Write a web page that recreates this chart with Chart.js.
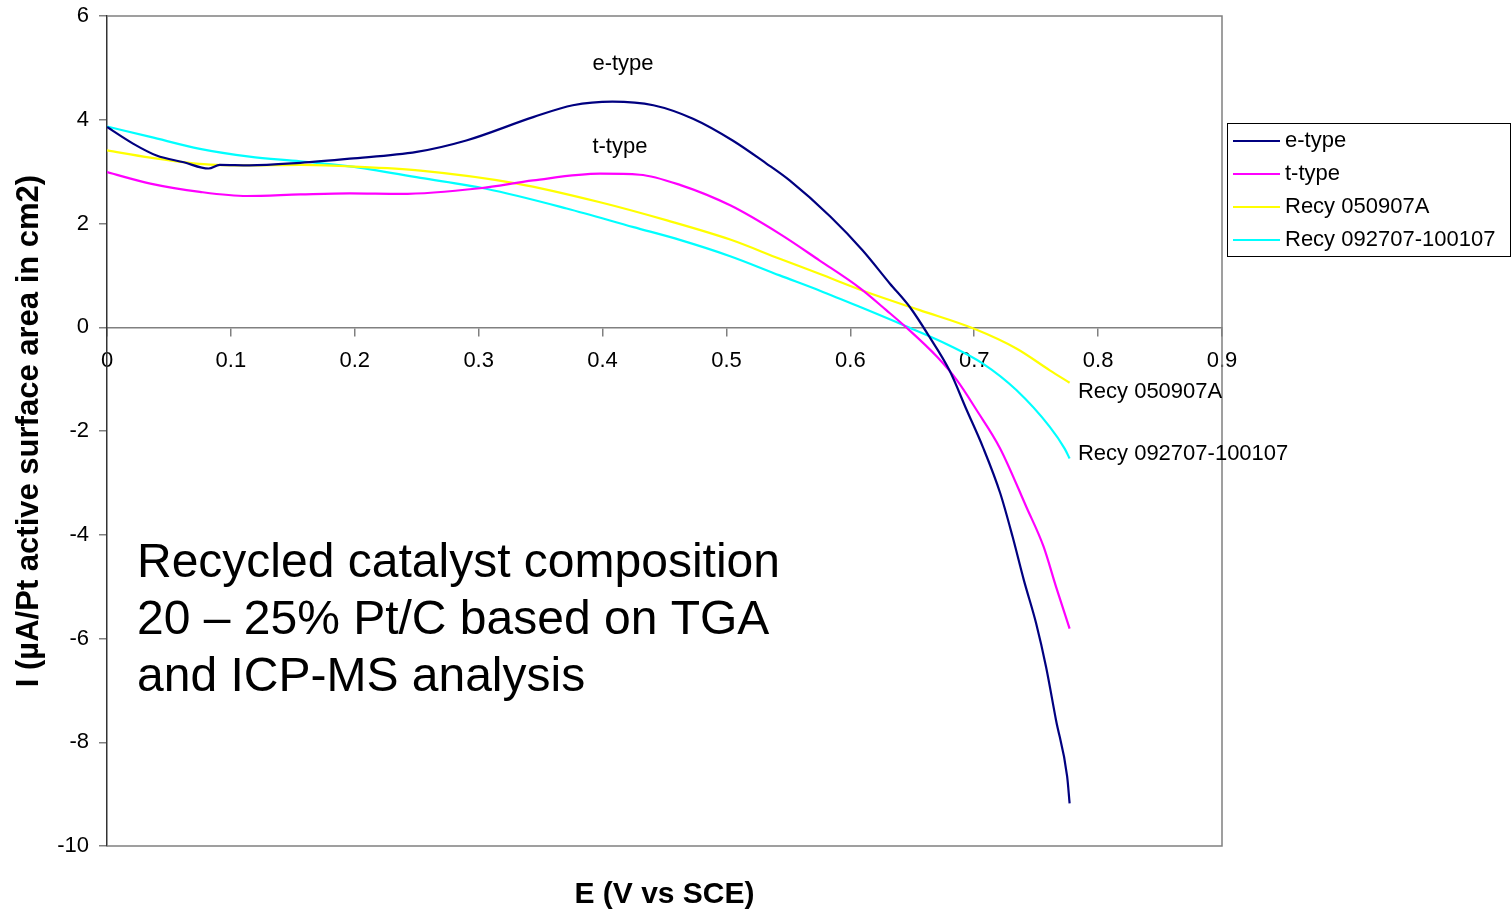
<!DOCTYPE html>
<html>
<head>
<meta charset="utf-8">
<title>Polarisation curves</title>
<script src="https://cdn.jsdelivr.net/npm/chart.js@4.4.1/dist/chart.umd.min.js"></script>
<style>
  html, body { margin: 0; padding: 0; background: #fff; }
  #wrap { width: 1511px; height: 910px; }
</style>
</head>
<body>
<div id="wrap"><canvas id="chart" width="1511" height="910"></canvas></div>
<script>
// axis ticks
const xTicks = [0, 0.1, 0.2, 0.3, 0.4, 0.5, 0.6, 0.7, 0.8, 0.9]
const yTicks = [-10, -8, -6, -4, -2, 0, 2, 4, 6]

const seriesNames  = ['e-type', 't-type', 'Recy 050907A', 'Recy 092707-100107']
const seriesColors = ['#000080', '#ff00ff', '#ffff00', '#00ffff']

// e-type : E (V vs SCE) / I
const eType_E = [0.000, 0.021, 0.040, 0.062, 0.082, 0.091, 0.115, 0.156, 0.196, 0.250, 0.290, 0.344, 0.376, 0.408,
                 0.441, 0.473, 0.505, 0.532, 0.551, 0.584, 0.610, 0.632, 0.648, 0.664, 0.680, 0.694, 0.707,
                 0.721, 0.731, 0.740, 0.750, 0.758, 0.766, 0.775, 0.777]
const eType_I = [3.86, 3.54, 3.31, 3.18, 3.06, 3.13, 3.12, 3.17, 3.25, 3.38, 3.60, 4.05, 4.28, 4.35,
                 4.28, 4.02, 3.60, 3.16, 2.83, 2.13, 1.48, 0.84, 0.39, -0.19, -0.83, -1.60, -2.31,
                 -3.20, -4.04, -4.87, -5.71, -6.55, -7.57, -8.66, -9.18]

// t-type
const tType_E = [0.000, 0.035, 0.075, 0.113, 0.156, 0.196, 0.237, 0.301, 0.344, 0.398, 0.430, 0.463, 0.503,
                 0.543, 0.575, 0.608, 0.629, 0.645, 0.670, 0.686, 0.702, 0.721, 0.742, 0.756, 0.766, 0.777]
const tType_I = [2.99, 2.77, 2.61, 2.53, 2.56, 2.58, 2.57, 2.68, 2.83, 2.96, 2.94, 2.74, 2.35,
                 1.80, 1.29, 0.75, 0.33, 0.00, -0.57, -1.02, -1.60, -2.34, -3.46, -4.23, -5.00, -5.81]

// Recy 050907A
const recyA_E = [0.000, 0.035, 0.075, 0.115, 0.156, 0.196, 0.253, 0.331, 0.398, 0.452, 0.503, 0.543,
                 0.575, 0.613, 0.656, 0.700, 0.734, 0.761, 0.777]
const recyA_I = [3.41, 3.27, 3.15, 3.12, 3.13, 3.10, 3.02, 2.77, 2.41, 2.06, 1.69, 1.32,
                 1.03, 0.68, 0.33, -0.03, -0.41, -0.83, -1.07]

// Recy 092707-100107
const recyB_E = [0.000, 0.035, 0.075, 0.115, 0.156, 0.196, 0.253, 0.306, 0.371, 0.425, 0.463, 0.503,
                 0.543, 0.575, 0.608, 0.645, 0.680, 0.707, 0.734, 0.761, 0.773, 0.777]
const recyB_I = [3.87, 3.67, 3.44, 3.29, 3.20, 3.10, 2.88, 2.67, 2.29, 1.93, 1.68, 1.37,
                 1.00, 0.71, 0.39, 0.02, -0.35, -0.70, -1.21, -1.92, -2.34, -2.53]

// labels inside the plot, placed at data coordinates
const curveLabels = [
    { text: 'e-type', x: 0.4165, y: 5.07, align: 'center' },
    { text: 't-type', x: 0.414,  y: 3.47, align: 'center' },
    { text: 'Recy 050907A', x: 0.7837, y: -1.25, align: 'left' },
    { text: 'Recy 092707-100107', x: 0.7837, y: -2.45, align: 'left' }
]
const noteLines = ['Recycled catalyst composition', '20 \u2013 25% Pt/C based on TGA', 'and ICP-MS analysis']

const FONT = "'Liberation Sans', Arial, sans-serif"

function toPoints(xs, ys) {
    return xs.map((x, i) => ({ x: x, y: ys[i] }))
}

const allE = [eType_E, tType_E, recyA_E, recyB_E]
const allI = [eType_I, tType_I, recyA_I, recyB_I]

const datasets = seriesNames.map((name, k) => ({
    label: name,
    data: toPoints(allE[k], allI[k]),
    borderColor: seriesColors[k],
    backgroundColor: seriesColors[k],
    borderWidth: 2.2,
    pointRadius: 0,
    showLine: true,
    cubicInterpolationMode: 'monotone'
}))

// frame, texts, titles and legend
const overlay = {
    id: 'overlay',
    beforeDatasetsDraw(chart) {
        const ctx = chart.ctx
        const a = chart.chartArea
        ctx.save()
        ctx.strokeStyle = '#808080'
        ctx.lineWidth = 1.5
        ctx.beginPath()
        ctx.moveTo(a.left, a.top)
        ctx.lineTo(a.right, a.top)
        ctx.lineTo(a.right, a.bottom)
        ctx.lineTo(a.left, a.bottom)
        ctx.stroke()
        ctx.restore()
    },
    afterDraw(chart) {
        const ctx = chart.ctx
        const xs = chart.scales.x
        const ys = chart.scales.y
        const a = chart.chartArea
        ctx.save()
        ctx.fillStyle = '#000'

        // curve labels
        ctx.font = '22px ' + FONT
        ctx.textBaseline = 'middle'
        curveLabels.forEach(l => {
            ctx.textAlign = l.align
            ctx.fillText(l.text, xs.getPixelForValue(l.x), ys.getPixelForValue(l.y))
        })

        // big note
        ctx.font = '48px ' + FONT
        ctx.textAlign = 'left'
        ctx.textBaseline = 'alphabetic'
        noteLines.forEach((t, i) => {
            ctx.fillText(t, a.left + 30, 577 + i * 57)
        })

        // axis titles
        ctx.font = 'bold 30px ' + FONT
        ctx.textAlign = 'center'
        ctx.fillText('E (V vs SCE)', (a.left + a.right) / 2, 903)

        ctx.save()
        ctx.translate(38, (a.top + a.bottom) / 2)
        ctx.rotate(-Math.PI / 2)
        ctx.font = 'bold 31px ' + FONT
        ctx.fillText('I (\u00b5A/Pt active surface area in cm2)', 0, 0)
        ctx.restore()

        // legend
        const lx = 1227, ly = 123
        ctx.strokeStyle = '#000'
        ctx.lineWidth = 1
        ctx.strokeRect(lx + 0.5, ly + 0.5, 283, 133)
        ctx.font = '22px ' + FONT
        ctx.textAlign = 'left'
        ctx.textBaseline = 'middle'
        seriesNames.forEach((name, k) => {
            const y = ly + 18 + k * 33
            ctx.strokeStyle = seriesColors[k]
            ctx.lineWidth = 2
            ctx.beginPath()
            ctx.moveTo(lx + 6, y)
            ctx.lineTo(lx + 53, y)
            ctx.stroke()
            ctx.fillStyle = '#000'
            ctx.fillText(name, lx + 58, y)
        })
        ctx.restore()
    }
}

new Chart(document.getElementById('chart'), {
    type: 'scatter',
    data: { datasets: datasets },
    options: {
        responsive: false,
        animation: false,
        devicePixelRatio: 1,
        layout: { padding: { left: 0, top: 16, right: 289, bottom: 64 } },
        plugins: {
            legend: { display: false },
            tooltip: { enabled: false }
        },
        scales: {
            x: {
                type: 'linear',
                min: 0,
                max: 0.9,
                position: { y: 0 },
                afterBuildTicks: scale => { scale.ticks = xTicks.map(v => ({ value: v })) },
                afterFit: scale => {
                    scale.paddingTop = 0; scale.paddingBottom = 0
                    scale.paddingLeft = 0; scale.paddingRight = 0
                },
                ticks: {
                    callback: v => String(v),
                    color: '#000',
                    font: { family: FONT, size: 22 },
                    padding: 12,
                    maxRotation: 0,
                    autoSkip: false
                },
                grid: { drawOnChartArea: false, color: '#808080', tickLength: 8, lineWidth: 1.5 },
                border: { color: '#808080', width: 1.5 }
            },
            y: {
                type: 'linear',
                min: -10,
                max: 6,
                position: 'left',
                afterBuildTicks: scale => { scale.ticks = yTicks.map(v => ({ value: v })) },
                afterFit: scale => {
                    scale.width = 107
                    scale.paddingTop = 0; scale.paddingBottom = 0
                },
                ticks: {
                    callback: v => String(v),
                    color: '#000',
                    font: { family: FONT, size: 22 },
                    padding: 10
                },
                grid: { drawOnChartArea: false, color: '#808080', tickLength: 8, lineWidth: 1.5 },
                border: { color: '#333', width: 1.5 }
            }
        }
    },
    plugins: [overlay]
})
</script>
</body>
</html>
